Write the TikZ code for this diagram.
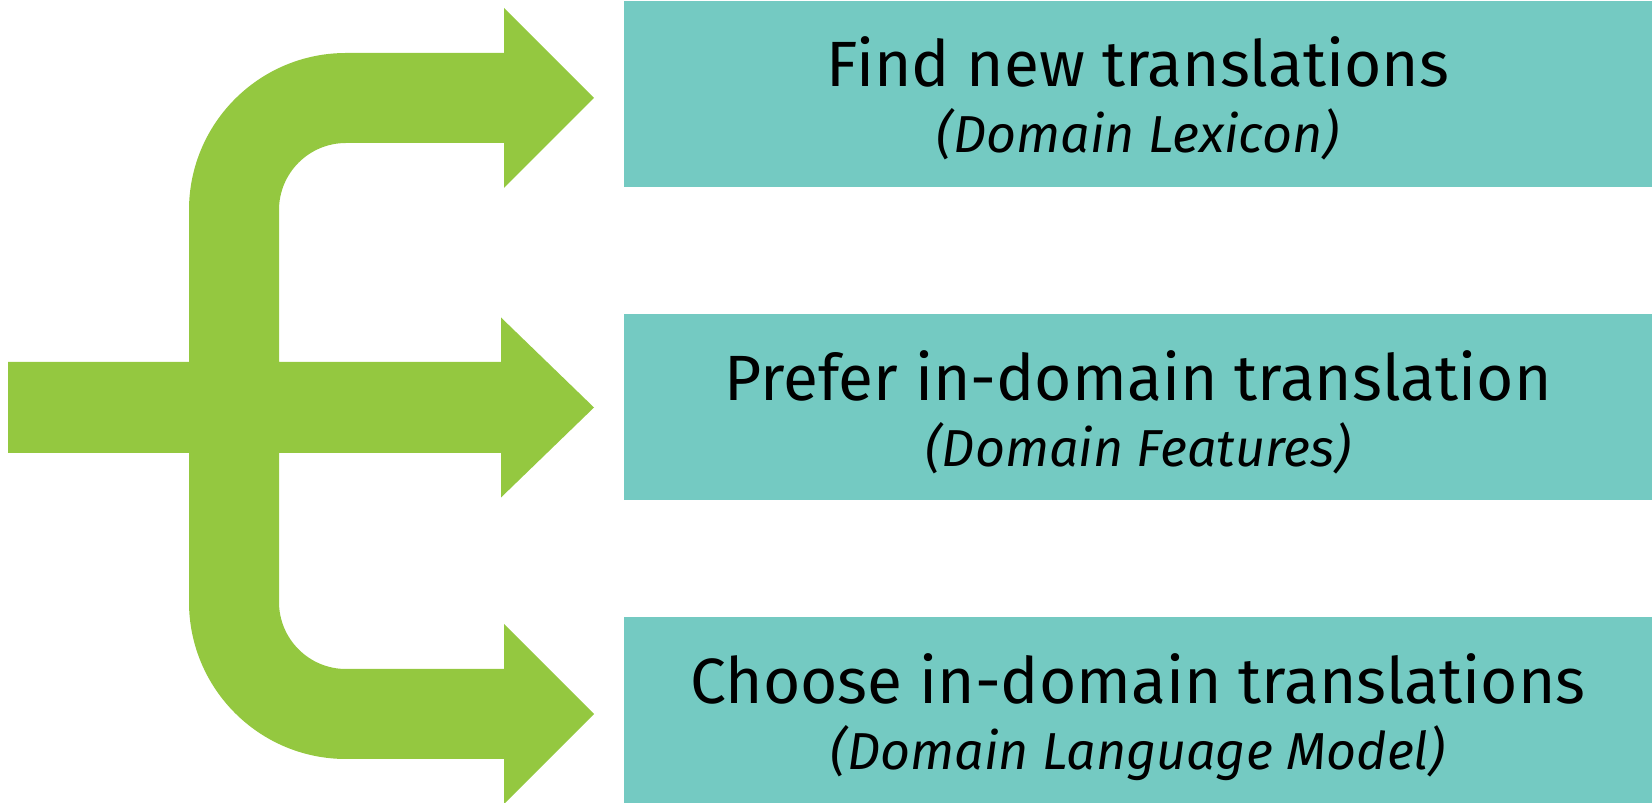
\documentclass[tikz,border=0pt]{standalone}
\usepackage{fontspec}
\setmainfont{Fira Sans}
\definecolor{leafgreen}{RGB}{148,200,64}
\definecolor{tealbox}{RGB}{116,202,194}
\begin{document}
\begin{tikzpicture}[x=1pt,y=1pt,
  panel/.style={rectangle, fill=tealbox, inner sep=0pt, minimum width=1028pt, minimum height=186pt},
  headline/.style={anchor=base, font=\fontsize{64}{72}\selectfont, inner sep=0pt},
  subline/.style={anchor=base, font=\fontsize{52}{60}\selectfont\itshape, inner sep=0pt}]
\useasboundingbox (0,0) rectangle (1652,803);

% branching arrow: one input bar splitting into three outputs
\fill[leafgreen]
  (8,441) -- (189,441) -- (189,593)
  arc[start angle=180, end angle=90, radius=157pt]
  -- (504,750) -- (504,795) -- (594,705) -- (504,615) -- (504,660) -- (346,660)
  arc[start angle=90, end angle=180, radius=67pt]
  -- (279,441) -- (501,441) -- (501,485.5) -- (594,395.5) -- (501,305.5) -- (501,350)
  -- (279,350) -- (279,201)
  arc[start angle=180, end angle=270, radius=67pt]
  -- (504,134) -- (504,179) -- (594,89) -- (504,-1) -- (504,44) -- (346,44)
  arc[start angle=270, end angle=180, radius=157pt]
  -- (189,350) -- (8,350) -- cycle;

% target panels
\node[panel] (lexicon)  at (1138,709) {};
\node[panel] (features) at (1138,395.75) {};
\node[panel] (langmodel) at (1138,92.75) {};

\node[headline] (lexiconA)  at ([yshift=7pt]lexicon.center) {Find new translations};
\node[subline]  (lexiconB)  at ([yshift=-59pt]lexicon.center) {(Domain Lexicon)};
\node[headline] (featuresA) at ([yshift=7pt]features.center) {Prefer in-domain translation};
\node[subline]  (featuresB) at ([yshift=-59pt]features.center) {(Domain Features)};
\node[headline] (langmodelA) at ([yshift=7pt]langmodel.center) {Choose in-domain translations};
\node[subline]  (langmodelB) at ([yshift=-59pt]langmodel.center) {(Domain Language Model)};
\end{tikzpicture}
\end{document}
